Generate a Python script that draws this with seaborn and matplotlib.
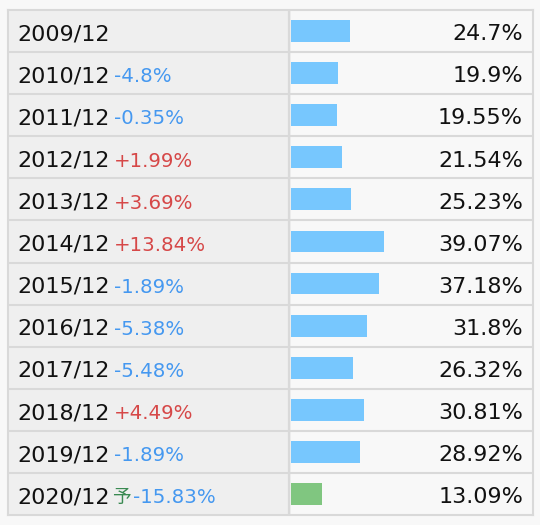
import matplotlib
matplotlib.use("Agg")
import matplotlib.pyplot as plt
import matplotlib.transforms as mtransforms
import seaborn as sns
import pandas as pd

# ---- data ----
periods = ['2009/12', '2010/12', '2011/12', '2012/12', '2013/12', '2014/12',
           '2015/12', '2016/12', '2017/12', '2018/12', '2019/12', '2020/12']
rates = [24.7, 19.9, 19.55, 21.54, 25.23, 39.07, 37.18, 31.8, 26.32, 30.81, 28.92, 13.09]
changes = [None, -4.8, -0.35, 1.99, 3.69, 13.84, -1.89, -5.38, -5.48, 4.49, -1.89, -15.83]
forecast = [False] * 11 + [True]
forecast_mark = '予'

# ---- style ----
sns.set_theme(style="white")
plt.rcParams['font.family'] = ['DejaVu Sans', 'Noto Sans CJK JP']

BG = '#f8f8f8'
LABEL_BG = '#efefef'
GRID = '#d9d9d9'
BLUE_BAR = '#77c7fe'
GREEN_BAR = '#80c680'
UP = '#d64848'
DOWN = '#4598f0'
FC_GREEN = '#3a8a52'

W, H = 540, 525
fig = plt.figure(figsize=(W / 100, H / 100), dpi=100, facecolor=BG)
ax = fig.add_axes([8 / W, 10 / H, 525 / W, 505 / H])
ax.set_facecolor(BG)

df = pd.DataFrame({'period': periods, 'rate': rates})
palette = [GREEN_BAR if f else BLUE_BAR for f in forecast]
sns.barplot(data=df, x='rate', y='period', hue='period', palette=palette,
            legend=False, orient='h', width=0.52, ax=ax, saturation=1,
            edgecolor='none')

# scale: x=0 at pixel 290.5, 2.39 px per percent
px_per = 2.39
ax.set_xlim(-(290.5 - 8) / px_per, (533 - 290.5) / px_per)
ax.set_ylim(len(periods) - 0.5, -0.5)

# label column background and separators
ax.axvspan(ax.get_xlim()[0], 0, color=LABEL_BG, zorder=0, lw=0)
ax.axvline(-0.5, color=GRID, lw=1.6, zorder=1)
for i in range(1, len(periods)):
    ax.axhline(i - 0.5, color=GRID, lw=1.5, zorder=1)

for s in ax.spines.values():
    s.set_color(GRID)
    s.set_linewidth(1.5)
ax.set_xticks([])
ax.set_yticks([])
ax.set_xlabel('')
ax.set_ylabel('')

trans = mtransforms.blended_transform_factory(ax.transAxes, ax.transData)
base_off = 0.22
for i, (p, r, c, f) in enumerate(zip(periods, rates, changes, forecast)):
    y = i + base_off
    lab = ax.text(0.0171, y, p, transform=trans, ha='left', va='baseline',
                  fontsize=16, color='#111111')
    anchor = lab
    gap = 3.5
    if f:
        anchor = ax.annotate(forecast_mark, xy=(1, y), xycoords=(anchor, 'data'),
                             xytext=(1.5, 0), textcoords='offset points',
                             ha='left', va='baseline', fontsize=13.5,
                             color=FC_GREEN, family=['Noto Sans CJK JP'])
        gap = 2.0
    if c is not None:
        ax.annotate(f"{c:+g}%", xy=(1, y), xycoords=(anchor, 'data'),
                    xytext=(gap, 0), textcoords='offset points',
                    ha='left', va='baseline', fontsize=14.2,
                    color=UP if c > 0 else DOWN)
    ax.text(0.981, y, f"{r:g}%", transform=trans, ha='right', va='baseline',
            fontsize=16, color='#111111')

fig.savefig('out.png', dpi=100, facecolor=BG)
